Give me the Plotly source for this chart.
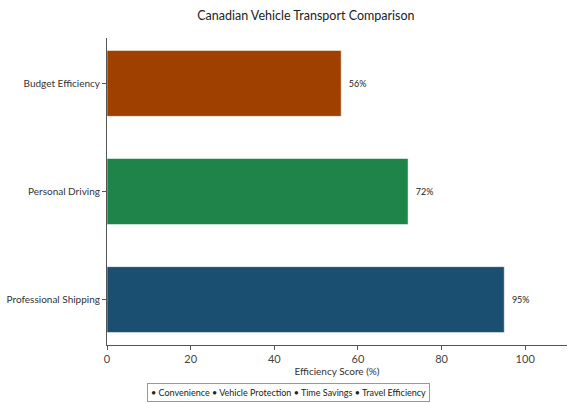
import plotly.graph_objects as go

categories = ["Professional Shipping", "Personal Driving", "Budget Efficiency"]
values = [95, 72, 56]
colors = ["#1B4F72", "#1E8449", "#A04000"]
legend_names = ["Convenience", "Vehicle Protection", "Time Savings", "Travel Efficiency"]

FONT = "Lato"

fig = go.Figure()
fig.add_trace(go.Bar(
    y=categories, x=values, orientation="h",
    marker=dict(color=colors, line=dict(color="rgba(255,255,255,0.5)", width=1)),
    width=0.61,
    text=[f"{v}%" for v in values], textposition="outside",
    texttemplate="&nbsp;&nbsp;%{text}",
    textfont=dict(size=9, color="#222"),
    cliponaxis=False, showlegend=False,
))

legend_text = " ".join(f"• {n}" for n in legend_names)
fig.add_annotation(
    text=legend_text, x=(288 - 107) / 460, xref="paper", y=-0.125, yref="paper",
    xanchor="center", yanchor="top", showarrow=False,
    font=dict(size=9, color="#222"),
    bordercolor="#999", borderwidth=1, borderpad=3, bgcolor="white",
)

fig.update_layout(
    width=576, height=403,
    margin=dict(l=107, r=9, t=38, b=58, autoexpand=False),
    paper_bgcolor="white", plot_bgcolor="white",
    font=dict(family=FONT, size=10, color="#333"),
    title=dict(text="Canadian Vehicle Transport Comparison", x=0.531, xref="container",
               xanchor="center", y=0.962, yref="container", yanchor="middle",
               font=dict(size=12.5, color="#222")),
    showlegend=False,
)
fig.update_xaxes(range=[0, 110], tickvals=[0, 20, 40, 60, 80, 100],
                 showline=True, linecolor="#555", linewidth=1, ticks="outside",
                 ticklen=4, tickcolor="#555", showgrid=False, zeroline=False,
                 automargin=False,
                 title=dict(text="Efficiency Score (%)", standoff=0, font=dict(size=10)),
                 tickfont=dict(size=11, color="#444"))
fig.update_yaxes(range=[-0.42, 2.42], showline=True, linecolor="#555", linewidth=1,
                 ticks="outside", ticklen=4, tickcolor="#555", showgrid=False,
                 automargin=False, tickfont=dict(size=10))

fig.write_html("out.html", config={"displayModeBar": False},
               post_script="document.body.style.margin='0';")
